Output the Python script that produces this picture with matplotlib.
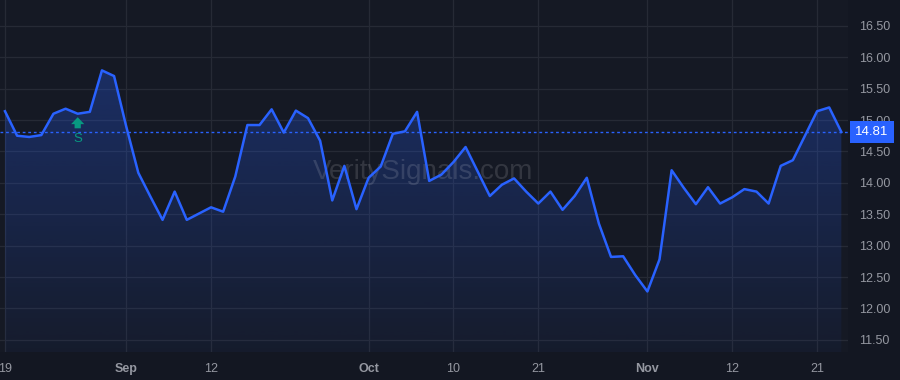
import numpy as np
import pandas as pd
import matplotlib
matplotlib.use('Agg')
import matplotlib.pyplot as plt
import matplotlib.transforms as mtransforms

plt.rcParams['font.family'] = ['Liberation Sans', 'DejaVu Sans']

# trading days Aug 19 - Nov 25 (Labor Day closed)
dates = pd.bdate_range('2024-08-19', '2024-11-25')
dates = dates[dates != pd.Timestamp('2024-09-02')]

values = [15.14, 14.75, 14.73, 14.76, 15.10, 15.18, 15.10, 15.13, 15.79, 15.70,
          14.90, 14.16, 13.78, 13.41, 13.86, 13.41, 13.51, 13.61, 13.54, 14.10,
          14.92, 14.92, 15.17, 14.80, 15.15, 15.03, 14.67, 13.72, 14.27, 13.58,
          14.08, 14.26, 14.78, 14.82, 15.13, 14.03, 14.13, 14.33, 14.57, 14.18,
          13.79, 13.97, 14.07, 13.86, 13.67, 13.86, 13.57, 13.79, 14.08, 13.35,
          12.82, 12.83, 12.53, 12.27, 12.78, 14.20, 13.92, 13.66, 13.93, 13.67,
          13.77, 13.90, 13.86, 13.67, 14.27, 14.36, 14.75, 15.14, 15.20, 14.81]

tick_dates = ['2024-08-19', '2024-09-03', '2024-09-12', '2024-10-01', '2024-10-10',
              '2024-10-21', '2024-11-01', '2024-11-12', '2024-11-21']
tick_labels = ['19', 'Sep', '12', 'Oct', '10', '21', 'Nov', '12', '21']
month_labels = ['Sep', 'Oct', 'Nov']

y_ticks = [11.5, 12.0, 12.5, 13.0, 13.5, 14.0, 14.5, 15.0, 15.5, 16.0, 16.5]
signal_date = '2024-08-27'
signal_label = 'S'
last_price = values[-1]

bg = '#131722'
grid_c = '#262a35'
text_c = '#9598a1'
blue = '#2962FF'
green = '#089981'

x = np.arange(len(values))
y = np.array(values)

fig = plt.figure(figsize=(9, 3.8), dpi=100, facecolor=bg)
ax = fig.add_axes([0, 28 / 380, 848 / 900, 352 / 380])
ax.set_facecolor('#151924')

ymin, ymax = 11.306, 16.911
xmin, xmax = -0.41, 69.55
ax.set_xlim(xmin, xmax)
ax.set_ylim(ymin, ymax)

# gradient area under the line
poly = ax.fill_between(x, y, ymin, color='none', lw=0)
grad = np.zeros((256, 1, 4))
grad[:, 0, :3] = matplotlib.colors.to_rgb(blue)
grad[:, 0, 3] = np.linspace(0.30, 0.04, 256)
img = ax.imshow(grad, extent=[xmin, xmax, ymin, 15.9], aspect='auto',
                origin='upper', zorder=1)
img.set_clip_path(poly.get_paths()[0], transform=ax.transData)

ax.plot(x, y, color=blue, lw=1.8, zorder=3)
ax.axhline(last_price, color=blue, lw=1, ls=(0, (2, 2)), zorder=2)

# grid
tick_pos = [dates.get_loc(pd.Timestamp(d)) for d in tick_dates]
for t in tick_pos:
    ax.axvline(t, color=grid_c, lw=0.9, zorder=0)
for v in y_ticks:
    ax.axhline(v, color=grid_c, lw=0.9, zorder=0)

for s in ax.spines.values():
    s.set_visible(False)
ax.set_xticks(tick_pos)
ax.set_xticklabels(tick_labels)
ax.tick_params(axis='x', length=0, pad=8, labelsize=9, colors=text_c)
for lab in ax.get_xticklabels():
    if lab.get_text() in month_labels:
        lab.set_fontweight('bold')
ax.set_yticks(y_ticks)
ax.set_yticklabels([f'{v:.2f}' for v in y_ticks])
ax.yaxis.tick_right()
ax.tick_params(axis='y', length=0, pad=8, labelsize=9, colors=text_c)

# last price label on the axis
lbl_trans = mtransforms.offset_copy(ax.get_yaxis_transform(), fig=fig, x=5, y=0, units='points')
ax.text(1.0, last_price, f'{last_price:.2f}', transform=lbl_trans,
        ha='left', va='center', fontsize=9.5, color='white', zorder=5,
        bbox=dict(boxstyle='square,pad=0.4', fc=blue, ec='none'))

# signal marker
si = dates.get_loc(pd.Timestamp(signal_date))
tip = mtransforms.offset_copy(ax.transData, fig=fig, x=0, y=-2.5, units='points')
tail = mtransforms.offset_copy(ax.transData, fig=fig, x=0, y=-10.5, units='points')
ax.annotate('', xy=(si, values[si]), xycoords=tip,
            xytext=(si, values[si]), textcoords=tail,
            arrowprops=dict(arrowstyle='simple,head_length=0.5,head_width=0.95,tail_width=0.45',
                            color=green, lw=0, shrinkA=0, shrinkB=0), zorder=4)
ax.annotate(signal_label, xy=(si, values[si]), xytext=(0, -18.5), textcoords='offset points',
            ha='center', va='center', fontsize=9.5, color=green, zorder=4)

ax.text(0.499, 0.511, 'VeritySignals.com', transform=ax.transAxes, ha='center',
        va='center', fontsize=20, color='#ffffff', alpha=0.13, zorder=2)

fig.savefig('out.png', dpi=100, facecolor=bg)
